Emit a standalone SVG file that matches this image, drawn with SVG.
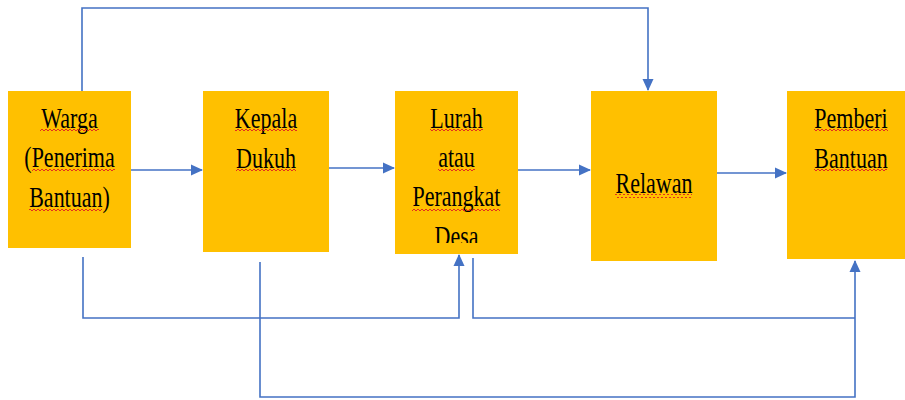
<svg xmlns="http://www.w3.org/2000/svg" width="905" height="400" viewBox="0 0 905 400">
<defs>
<marker id="ah" markerUnits="userSpaceOnUse" markerWidth="12" markerHeight="12" viewBox="0 0 12 12" refX="11" refY="6" orient="auto">
<path d="M0,0.5 L12,6 L0,11.5 Z" fill="#4472C4"/>
</marker>
<pattern id="sq" patternUnits="userSpaceOnUse" width="4" height="4" x="0" y="0">
<path d="M0,3 L2,1 L4,3" fill="none" stroke="#E02020" stroke-width="0.9"/>
</pattern>
<clipPath id="lurahClip"><rect x="395" y="91" width="123" height="152"/></clipPath>
</defs>
<style>
.box{fill:#FFC000;}
.t{font-family:"Liberation Serif","Times New Roman",serif;font-size:22px;fill:#000;text-anchor:middle;}
.sq{fill:url(#sq);}
.c{fill:none;stroke:#4472C4;stroke-width:1.6;}
</style>
<rect width="905" height="400" fill="#fff"/>
<g id="connectors">
<path class="c" d="M82,91 V8 H648 V90" marker-end="url(#ah)"/>
<path class="c" d="M131,170 H202" marker-end="url(#ah)"/>
<path class="c" d="M329,168 H394" marker-end="url(#ah)"/>
<path class="c" d="M518,170 H590" marker-end="url(#ah)"/>
<path class="c" d="M717,173 H786" marker-end="url(#ah)"/>
<path class="c" d="M83,257 V318 H459 V255" marker-end="url(#ah)"/>
<path class="c" d="M473,258 V318 H855"/>
<path class="c" d="M260,262 V397 H855 V261" marker-end="url(#ah)"/>
</g>
<g id="warga">
<rect class="box" x="8" y="91" width="123" height="157"/>
<g transform="translate(69.5,128) scale(1,1.35)"><text class="t" x="0" y="0">Warga</text></g>
<g transform="translate(69.5,167) scale(1,1.35)"><text class="t" x="0" y="0">(Penerima</text></g>
<g transform="translate(69.5,207) scale(1,1.35)"><text class="t" x="0" y="0">Bantuan)</text></g>
<rect class="sq" x="40" y="129" width="59" height="4"/>
<rect class="sq" x="32" y="168" width="83" height="4"/>
<rect class="sq" x="29" y="208" width="73" height="4"/>
</g>
<g id="kepala">
<rect class="box" x="203" y="91" width="126" height="161"/>
<g transform="translate(266,128) scale(1,1.35)"><text class="t" x="0" y="0">Kepala</text></g>
<g transform="translate(266,168) scale(1,1.35)"><text class="t" x="0" y="0">Dukuh</text></g>
<rect class="sq" x="235" y="129" width="62" height="4"/>
<rect class="sq" x="236" y="169" width="60" height="4"/>
</g>
<g id="lurah">
<rect class="box" x="395" y="91" width="123" height="163"/>
<g clip-path="url(#lurahClip)">
<g transform="translate(456.5,128) scale(1,1.35)"><text class="t" x="0" y="0">Lurah</text></g>
<g transform="translate(456.5,167) scale(1,1.35)"><text class="t" x="0" y="0">atau</text></g>
<g transform="translate(456.5,206) scale(1,1.35)"><text class="t" x="0" y="0">Perangkat</text></g>
<g transform="translate(456.5,246) scale(1,1.35)"><text class="t" x="0" y="0">Desa</text></g>
</g>
<rect class="sq" x="430" y="129" width="53" height="4"/>
<rect class="sq" x="438" y="168" width="37" height="4"/>
<rect class="sq" x="412" y="207" width="88" height="4"/>
</g>
<g id="relawan">
<rect class="box" x="591" y="91" width="126" height="170"/>
<g transform="translate(654,193) scale(1,1.35)"><text class="t" x="0" y="0">Relawan</text></g>
<rect class="sq" x="615" y="194" width="77" height="4"/>
</g>
<g id="pemberi">
<rect class="box" x="787" y="91" width="128" height="168"/>
<g transform="translate(851,128) scale(1,1.35)"><text class="t" x="0" y="0">Pemberi</text></g>
<g transform="translate(851,168) scale(1,1.35)"><text class="t" x="0" y="0">Bantuan</text></g>
<rect class="sq" x="814" y="129" width="74" height="4"/>
<rect class="sq" x="814" y="169" width="73" height="4"/>
</g>
</svg>
